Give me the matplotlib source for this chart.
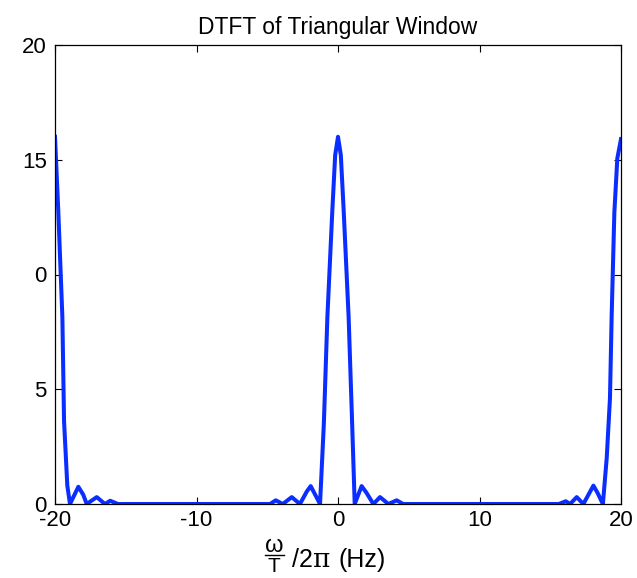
import matplotlib
matplotlib.use("Agg")
import matplotlib.pyplot as plt
from matplotlib.lines import Line2D

plt.rcParams['font.family'] = ['Liberation Sans', 'DejaVu Sans']
plt.rcParams['axes.unicode_minus'] = False

# frequency (Hz) and magnitude
freq = [-20.0, -19.77, -19.48, -19.36, -19.13, -18.94, -18.35, -18.0, -17.76,
        -17.05, -16.47, -16.1, -15.55,
        -4.8, -4.4, -3.9, -3.27, -2.69, -2.2, -1.93, -1.65, -1.27,
        -1.0, -0.75, -0.4, -0.2, 0.0, 0.2, 0.4, 0.75, 1.0, 1.18,
        1.67, 2.0, 2.5, 2.97, 3.56, 4.15, 4.6,
        15.6, 16.1, 16.4, 16.87, 17.34, 18.05, 18.33, 18.72,
        18.99, 19.22, 19.34, 19.53, 19.74, 20.0]
mag = [16.0, 12.8, 8.16, 3.6, 0.8, 0.0, 0.75, 0.4, 0.0,
       0.3, 0.0, 0.14, 0.0,
       0.0, 0.16, 0.0, 0.3, 0.0, 0.55, 0.78, 0.45, 0.0,
       3.5, 8.16, 12.8, 15.2, 16.0, 15.2, 12.8, 8.16, 3.5, 0.0,
       0.78, 0.5, 0.0, 0.3, 0.0, 0.16, 0.0,
       0.0, 0.12, 0.0, 0.3, 0.0, 0.8, 0.5, 0.0,
       2.0, 4.6, 8.2, 12.7, 15.06, 15.9]

xticks = [-20, -10, 0, 10, 20]
yticks = [0, 5, 10, 15, 20]
ytick_labels = ['0', '5', '0', '15', '20']

fig = plt.figure(figsize=(6.37, 5.78), dpi=100, facecolor='w')
ax = fig.add_axes([55 / 637, 74 / 578, 566 / 637, 459 / 578])

ax.plot(freq, mag, color='#0a2eff', lw=2.9, solid_joinstyle='round')

ax.set_xlim(-20, 20)
ax.set_ylim(0, 20)
ax.set_xticks(xticks)
ax.set_yticks(yticks)
ax.set_yticklabels(ytick_labels)
ax.tick_params(direction='in', top=True, right=True, labelsize=16,
               length=5, width=0.8)
ax.tick_params(axis='y', pad=6)
ax.tick_params(axis='x', pad=4)
for s in ax.spines.values():
    s.set_linewidth(0.9)

ax.set_title('DTFT of Triangular Window', fontsize=16.5, pad=8)

# x label: omega over T, then /2pi (Hz)
def px(x, y):
    return x / 637, 1 - y / 578

fig.text(*px(274, 546), '\u03c9', fontsize=17, ha='center', va='center')
fig.add_artist(Line2D([265 / 637, 284 / 637], [1 - 555 / 578, 1 - 555 / 578],
                      color='k', lw=1.0))
fig.text(*px(274, 567), 'T', fontsize=15, ha='center', va='center')
fig.text(*px(292, 567), '/2', fontsize=18, ha='left', va='baseline')
fig.text(*px(313, 567), '\u03c0', fontsize=19, ha='left', va='baseline',
         family=['DejaVu Serif'])
fig.text(*px(338, 567), '(Hz)', fontsize=18, ha='left', va='baseline')

fig.savefig('out.png', dpi=100)
